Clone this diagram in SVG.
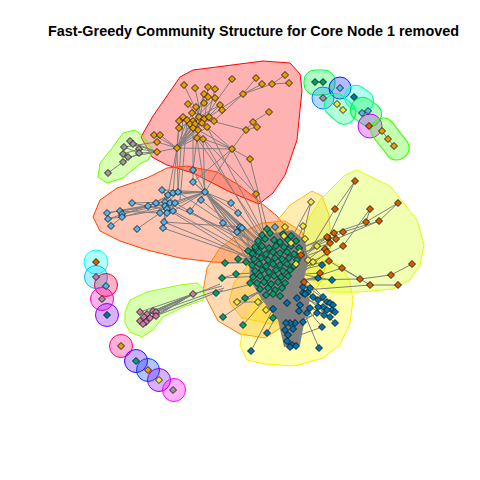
<svg xmlns="http://www.w3.org/2000/svg" width="480" height="480" viewBox="0 0 480 480">
<style>
.h{stroke-width:1;stroke-linejoin:round}
.e{stroke:#808080;stroke-width:1;fill:none}
.v use{stroke:#000;stroke-width:0.8}
.title{font-family:"Liberation Sans",Arial,sans-serif;font-weight:bold;font-size:14.4px;fill:#000}
</style>
<defs>
<path id="d" d="M0,-3.5L3.5,0L0,3.5L-3.5,0Z"/>
</defs>
<rect width="480" height="480" fill="#fff"/>
<text class="title" x="253.5" y="36" text-anchor="middle">Fast-Greedy Community Structure for Core Node 1 removed</text>
<g id="hulls">
<path class="h" fill="#FF0000" fill-opacity="0.3" stroke="#FF0000" d="M141,137 L153,116 L180,77 L193,70 L263,61 L290,63 L300,74 L302,90 L297,140 L285,175 L273,193 L259,204 L230,192 L193,173 L167,165 L152,157 Z"/>
<path class="h" fill="#FF4000" fill-opacity="0.3" stroke="#FF4000" d="M93,217 L100,200 L117,188 L147,178 L167,168 L187,166 L217,172 L240,186 L260,202 L277,216 L290,232 L285,250 L268,260 L240,263 L213,262 L180,258 L147,250 L120,241 L100,231 Z"/>
<path class="h" fill="#FF8000" fill-opacity="0.3" stroke="#FF8000" d="M203,292 L207,268 L220,248 L240,233 L262,223 L285,221 L302,232 L308,262 L300,295 L285,325 L265,338 L240,334 L218,321 Z"/>
<path class="h" fill="#FFBF00" fill-opacity="0.3" stroke="#FFBF00" d="M312,191 L322,196 L329,215 L331,245 L322,280 L302,310 L272,324 L242,318 L229,302 L234,283 L252,260 L268,232 L290,205 Z"/>
<path class="h" fill="#FFFF00" fill-opacity="0.3" stroke="#FFEE00" d="M240,345 L243,330 L255,300 L270,280 L295,268 L320,258 L340,265 L350,282 L353,300 L350,323 L340,345 L323,358 L295,366 L265,364 L247,360 Z"/>
<path class="h" fill="#CCFF00" fill-opacity="0.3" stroke="#DDFF00" d="M345,175 L357,170 L390,186 L417,220 L424,245 L420,265 L410,280 L393,289 L360,292 L330,292 L312,280 L300,255 L305,225 L320,200 Z"/>
<path class="h" fill="#80FF00" fill-opacity="0.3" stroke="#66FF00" d="M123,133 L135,130 L143,136 L153,150 L148,160 L140,164 L123,178 L107,183 L98,177 L100,163 L113,147 Z"/>
<path class="h" fill="#80FF00" fill-opacity="0.3" stroke="#99FF00" d="M125,312 L130,300 L147,292 L180,285 L197,283 L205,290 L203,300 L183,307 L163,317 L153,330 L142,337 L130,332 L125,323 Z"/>
<rect class="h" x="304" y="70" width="31" height="25" rx="11" fill="#00FF40" fill-opacity="0.3" stroke="#00FF40"/>
<circle class="h" cx="323" cy="98" r="11" fill="#0080FF" fill-opacity="0.3" stroke="#0080FF"/>
<circle class="h" cx="340" cy="88" r="11" fill="#0020FF" fill-opacity="0.3" stroke="#0020FF"/>
<rect class="h" x="-17" y="-11.5" width="34" height="23" rx="11" transform="translate(340,109) rotate(42)" fill="#00FF80" fill-opacity="0.3" stroke="#00FF80"/>
<rect class="h" x="-15" y="-11.5" width="30" height="23" rx="11" transform="translate(359,99) rotate(35)" fill="#00FFBF" fill-opacity="0.3" stroke="#00FFBF"/>
<rect class="h" x="-16" y="-12" width="32" height="24" rx="11" transform="translate(366,112) rotate(35)" fill="#00FF40" fill-opacity="0.3" stroke="#00FF40"/>
<circle class="h" cx="370" cy="126" r="12" fill="#BF00FF" fill-opacity="0.3" stroke="#BF00FF"/>
<rect class="h" x="-23" y="-12" width="46" height="24" rx="11" transform="translate(390,139) rotate(52)" fill="#40FF00" fill-opacity="0.3" stroke="#40FF00"/>
<circle class="h" cx="96" cy="262" r="12" fill="#00FFFF" fill-opacity="0.3" stroke="#00FFFF"/>
<circle class="h" cx="96" cy="277" r="11.5" fill="#00BFFF" fill-opacity="0.3" stroke="#00BFFF"/>
<circle class="h" cx="106" cy="285" r="11.5" fill="#FF0040" fill-opacity="0.3" stroke="#FF0040"/>
<circle class="h" cx="102" cy="299" r="11.5" fill="#FF00BF" fill-opacity="0.3" stroke="#FF00BF"/>
<circle class="h" cx="107" cy="315" r="11.5" fill="#8000FF" fill-opacity="0.3" stroke="#8000FF"/>
<circle class="h" cx="121" cy="346" r="11.5" fill="#FF0080" fill-opacity="0.3" stroke="#FF0080"/>
<circle class="h" cx="136" cy="361" r="11.5" fill="#4000FF" fill-opacity="0.3" stroke="#4000FF"/>
<circle class="h" cx="148" cy="370" r="11.5" fill="#0040FF" fill-opacity="0.3" stroke="#0040FF"/>
<circle class="h" cx="159" cy="380" r="11.5" fill="#8000FF" fill-opacity="0.3" stroke="#8000FF"/>
<circle class="h" cx="174" cy="390" r="11.5" fill="#FF00FF" fill-opacity="0.3" stroke="#FF00FF"/>
</g>
<g id="connectors">
<path fill="#808080" d="M258,236 L292,230 L305,240 L308,262 L302,285 L310,300 L305,318 L300,345 L284,347 L278,320 L262,300 L250,280 L249,255 Z"/>
<path class="e" d="M184,85L200,118 M195,88L202,120 M208,87L205,118 M215,89L207,120 M232,79L204,119 M256,78L243,94 M262,84L243,94 M272,84L243,94 M285,75L272,84 M289,83L272,84 M243,94L209,117 M243,94L214,121 M204,94L200,118 M188,104L199,117 M220,105L205,120 M183,117L207,127 M179,121L214,121 M187,120L204,103 M192,113L209,117 M190,124L215,98 M196,107L202,123 M179,128L220,105 M193,128L204,94
M177,148L179,121 M177,148L187,120 M177,148L193,121 M177,148L199,117 M177,148L204,119 M177,148L209,117 M177,148L190,124 M177,148L195,124 M177,148L202,123 M177,148L207,127 M177,148L193,128 M177,148L198,130 M177,148L197,138 M177,148L179,128 M177,148L157,142 M177,148L157,152 M177,148L154,135 M177,148L160,135 M177,148L232,149 M177,148L178,192 M177,148L173,193 M177,148L168,195
M232,149L207,127 M232,149L203,139 M232,149L246,130 M232,149L250,159 M232,149L256,194 M232,149L205,192 M232,149L193,182 M232,149L198,130 M269,112L253,122 M253,122L246,130 M257,127L246,130 M246,130L204,119
M197,138L205,192 M203,139L205,192 M198,130L193,170 M203,139L262,240 M197,138L268,242 M207,127L265,236 M193,128L256,194 M256,194L265,238 M250,159L270,240 M193,121L193,182 M187,120L180,200 M183,117L178,192
M130,141L157,152 M133,144L157,152 M139,149L157,152 M139,153L157,152 M124,147L157,142 M128,157L157,152 M123,154L139,149 M123,162L139,153 M108,173L123,162 M130,141L139,149 M124,147L139,153
M162,190L175,203 M168,195L160,213 M173,193L148,206 M178,192L165,206 M132,203L165,202 M148,206L178,192 M156,203L173,211 M165,202L167,213 M170,203L162,190 M107,213L165,202 M120,211L160,213 M122,214L170,203 M122,217L165,206 M108,219L167,209 M111,226L122,217 M137,229L160,213 M163,228L167,213 M164,222L165,206 M132,203L173,211 M107,213L148,206 M120,211L175,203 M108,219L156,203
M205,192L162,190 M205,192L168,195 M205,192L173,193 M205,192L178,192 M205,192L175,203 M205,192L170,203 M205,192L173,211 M205,192L167,209 M205,192L190,211 M205,192L193,170 M205,192L193,182 M205,192L201,200 M205,192L231,203 M205,192L238,213 M205,192L223,223 M205,192L240,227 M205,192L237,232 M205,192L242,228 M205,192L256,249 M205,192L262,246 M205,192L259,252 M205,192L266,254 M205,192L273,252 M205,192L255,271 M205,192L262,264 M205,192L280,260 M205,192L253,255
M178,192L265,250 M175,203L262,252 M173,211L258,258 M167,209L260,266 M165,202L268,248 M164,222L262,262 M163,228L255,260 M190,211L259,258 M193,182L264,246 M201,200L270,256 M231,203L265,245 M238,213L273,250 M223,223L265,260 M240,227L260,252 M237,232L276,256 M242,228L258,266 M256,249L285,255 M253,255L282,270 M275,227L280,250 M164,222L240,227
M225,263L262,262 M238,259L266,258 M246,262L272,264 M222,278L262,276 M236,274L268,272 M216,293L260,282 M223,317L262,290 M243,325L268,296 M245,298L266,288 M273,318L275,296 M250,283L270,282 M248,251L266,252 M225,263L246,262 M222,278L236,274
M140,312L193,294 M147,314L193,294 M153,311L193,294 M156,312L193,294 M150,318L193,294 M146,322L193,294 M156,316L193,294 M144,317L193,294 M193,294L222,286 M156,312L224,288 M153,311L220,284 M150,318L223,290
M251,351L273,309 M267,333L285,300 M319,348L305,315 M322,327L300,300 M335,323L310,300 M287,341L290,300 M292,345L295,305 M296,346L300,310 M290,347L285,310 M285,330L280,300 M273,309L285,290 M287,303L270,280 M297,298L280,285 M303,293L285,275 M322,265L300,270 M332,280L305,275 M318,278L295,280 M303,287L285,285 M310,288L290,270 M305,294L280,280 M318,300L295,285 M333,305L300,290 M330,317L295,300 M324,315L290,295 M327,302L285,288 M313,297L292,280 M323,297L298,272 M335,312L300,296 M317,313L296,325 M327,310L300,320 M330,303L305,285 M318,307L290,285 M322,327L300,335
M355,181L335,209 M335,209L310,250 M355,181L328,238 M398,203L379,221 M379,221L343,232 M370,209L366,222 M366,222L334,233 M343,232L300,255 M334,233L295,260 M328,238L296,250 M336,239L300,265 M343,246L295,270 M325,249L290,262 M327,252L300,275 M329,261L295,268 M342,268L300,282 M412,264L391,275 M391,275L360,279 M360,279L329,261 M398,285L370,285 M370,285L342,268 M360,279L300,280 M370,285L305,290 M301,255L285,260 M304,282L290,285 M320,273L290,275 M327,237L300,248 M330,243L295,256 M379,221L336,239 M370,209L343,246 M398,203L366,222
M311,202L300,250 M311,202L285,250 M303,226L290,260 M285,227L280,255 M305,239L285,262 M291,243L275,265 M317,246L290,268 M300,252L280,262 M308,260L285,272 M296,264L275,275 M313,262L290,280 M237,302L265,290 M258,302L275,290 M266,310L282,292 M284,236L270,260 M237,302L258,302
M315,82L323,82 M337,104L343,110 M362,113L368,111 M382,131L388,139 M388,139L394,146"/>
</g>
<g class="v">
<g id="community-orange" fill="#E69F00">
<use href="#d" x="184" y="85"/><use href="#d" x="195" y="88"/><use href="#d" x="208" y="87"/><use href="#d" x="215" y="89"/><use href="#d" x="232" y="79"/><use href="#d" x="256" y="78"/><use href="#d" x="262" y="84"/><use href="#d" x="272" y="84"/><use href="#d" x="285" y="75"/><use href="#d" x="289" y="83"/><use href="#d" x="243" y="94"/><use href="#d" x="204" y="94"/><use href="#d" x="208" y="97"/><use href="#d" x="215" y="98"/><use href="#d" x="188" y="104"/><use href="#d" x="196" y="107"/><use href="#d" x="204" y="103"/><use href="#d" x="220" y="105"/><use href="#d" x="222" y="110"/><use href="#d" x="192" y="113"/><use href="#d" x="183" y="117"/><use href="#d" x="179" y="121"/><use href="#d" x="187" y="120"/><use href="#d" x="193" y="121"/><use href="#d" x="199" y="117"/><use href="#d" x="204" y="119"/><use href="#d" x="209" y="117"/><use href="#d" x="214" y="121"/><use href="#d" x="190" y="124"/><use href="#d" x="195" y="124"/><use href="#d" x="202" y="123"/><use href="#d" x="207" y="127"/><use href="#d" x="179" y="128"/><use href="#d" x="193" y="128"/><use href="#d" x="198" y="130"/><use href="#d" x="197" y="138"/><use href="#d" x="203" y="139"/><use href="#d" x="269" y="112"/><use href="#d" x="253" y="122"/><use href="#d" x="257" y="127"/><use href="#d" x="246" y="130"/><use href="#d" x="154" y="135"/><use href="#d" x="160" y="135"/><use href="#d" x="157" y="142"/><use href="#d" x="157" y="152"/><use href="#d" x="177" y="148"/><use href="#d" x="232" y="149"/><use href="#d" x="250" y="159"/><use href="#d" x="256" y="194"/>
</g>
<g id="community-gray" fill="#999999">
<use href="#d" x="130" y="141"/><use href="#d" x="124" y="147"/><use href="#d" x="133" y="144"/><use href="#d" x="139" y="149"/><use href="#d" x="139" y="153"/><use href="#d" x="123" y="154"/><use href="#d" x="128" y="157"/><use href="#d" x="123" y="162"/><use href="#d" x="108" y="173"/>
</g>
<g id="community-lightblue" fill="#56B4E9">
<use href="#d" x="162" y="190"/><use href="#d" x="168" y="195"/><use href="#d" x="173" y="193"/><use href="#d" x="178" y="192"/><use href="#d" x="132" y="203"/><use href="#d" x="148" y="206"/><use href="#d" x="156" y="203"/><use href="#d" x="165" y="202"/><use href="#d" x="170" y="203"/><use href="#d" x="175" y="203"/><use href="#d" x="165" y="206"/><use href="#d" x="167" y="209"/><use href="#d" x="160" y="213"/><use href="#d" x="167" y="213"/><use href="#d" x="173" y="211"/><use href="#d" x="107" y="213"/><use href="#d" x="120" y="211"/><use href="#d" x="122" y="214"/><use href="#d" x="122" y="217"/><use href="#d" x="108" y="219"/><use href="#d" x="111" y="226"/><use href="#d" x="137" y="229"/><use href="#d" x="163" y="228"/><use href="#d" x="164" y="222"/><use href="#d" x="190" y="211"/><use href="#d" x="193" y="170"/><use href="#d" x="193" y="182"/><use href="#d" x="205" y="192"/><use href="#d" x="201" y="200"/><use href="#d" x="231" y="203"/><use href="#d" x="238" y="213"/><use href="#d" x="223" y="223"/><use href="#d" x="240" y="227"/><use href="#d" x="237" y="232"/><use href="#d" x="242" y="228"/><use href="#d" x="256" y="249"/><use href="#d" x="275" y="227"/><use href="#d" x="253" y="255"/>
</g>
<g id="community-teal" fill="#009E73">
<use href="#d" x="262" y="235"/><use href="#d" x="270" y="233"/><use href="#d" x="283" y="234"/><use href="#d" x="291" y="236"/>
<use href="#d" x="258" y="241"/><use href="#d" x="265" y="239"/><use href="#d" x="274" y="240"/><use href="#d" x="280" y="242"/><use href="#d" x="288" y="240"/><use href="#d" x="296" y="241"/>
<use href="#d" x="255" y="247"/><use href="#d" x="262" y="246"/><use href="#d" x="269" y="248"/><use href="#d" x="276" y="246"/><use href="#d" x="284" y="247"/><use href="#d" x="291" y="246"/><use href="#d" x="299" y="248"/>
<use href="#d" x="252" y="253"/><use href="#d" x="259" y="252"/><use href="#d" x="266" y="254"/><use href="#d" x="273" y="252"/><use href="#d" x="280" y="253"/><use href="#d" x="287" y="252"/><use href="#d" x="294" y="254"/>
<use href="#d" x="254" y="259"/><use href="#d" x="261" y="258"/><use href="#d" x="268" y="260"/><use href="#d" x="275" y="258"/><use href="#d" x="282" y="259"/><use href="#d" x="289" y="258"/><use href="#d" x="297" y="260"/>
<use href="#d" x="252" y="265"/><use href="#d" x="259" y="264"/><use href="#d" x="266" y="266"/><use href="#d" x="273" y="264"/><use href="#d" x="280" y="265"/><use href="#d" x="287" y="264"/><use href="#d" x="294" y="266"/>
<use href="#d" x="255" y="271"/><use href="#d" x="262" y="270"/><use href="#d" x="269" y="272"/><use href="#d" x="276" y="270"/><use href="#d" x="283" y="271"/><use href="#d" x="290" y="270"/>
<use href="#d" x="253" y="277"/><use href="#d" x="260" y="276"/><use href="#d" x="267" y="278"/><use href="#d" x="274" y="276"/><use href="#d" x="281" y="277"/><use href="#d" x="288" y="276"/>
<use href="#d" x="257" y="283"/><use href="#d" x="264" y="282"/><use href="#d" x="271" y="284"/><use href="#d" x="278" y="282"/><use href="#d" x="285" y="283"/>
<use href="#d" x="260" y="289"/><use href="#d" x="268" y="288"/><use href="#d" x="275" y="290"/><use href="#d" x="282" y="288"/>
<use href="#d" x="266" y="295"/><use href="#d" x="273" y="294"/><use href="#d" x="280" y="296"/>
<use href="#d" x="225" y="263"/><use href="#d" x="238" y="259"/><use href="#d" x="246" y="262"/><use href="#d" x="222" y="278"/><use href="#d" x="236" y="274"/><use href="#d" x="216" y="293"/><use href="#d" x="223" y="317"/><use href="#d" x="243" y="325"/><use href="#d" x="245" y="298"/><use href="#d" x="273" y="318"/><use href="#d" x="267" y="229"/><use href="#d" x="248" y="251"/><use href="#d" x="250" y="283"/>
</g>
<g id="community-yellow" fill="#F0E442">
<use href="#d" x="311" y="202"/><use href="#d" x="303" y="226"/><use href="#d" x="285" y="227"/><use href="#d" x="305" y="239"/><use href="#d" x="291" y="243"/><use href="#d" x="317" y="246"/><use href="#d" x="300" y="252"/><use href="#d" x="308" y="260"/><use href="#d" x="296" y="264"/><use href="#d" x="313" y="262"/><use href="#d" x="237" y="302"/><use href="#d" x="258" y="302"/><use href="#d" x="266" y="310"/><use href="#d" x="284" y="236"/>
</g>
<g id="community-darkblue" fill="#0072B2">
<use href="#d" x="287" y="303"/><use href="#d" x="297" y="298"/><use href="#d" x="303" y="293"/><use href="#d" x="308" y="292"/><use href="#d" x="313" y="297"/><use href="#d" x="318" y="300"/><use href="#d" x="323" y="297"/><use href="#d" x="327" y="302"/><use href="#d" x="330" y="303"/><use href="#d" x="333" y="305"/><use href="#d" x="332" y="310"/><use href="#d" x="335" y="312"/><use href="#d" x="327" y="310"/><use href="#d" x="323" y="307"/><use href="#d" x="318" y="307"/><use href="#d" x="317" y="313"/><use href="#d" x="324" y="315"/><use href="#d" x="330" y="317"/><use href="#d" x="335" y="323"/><use href="#d" x="322" y="327"/><use href="#d" x="310" y="308"/><use href="#d" x="300" y="305"/><use href="#d" x="307" y="313"/><use href="#d" x="299" y="311"/><use href="#d" x="295" y="323"/><use href="#d" x="290" y="323"/><use href="#d" x="286" y="323"/><use href="#d" x="285" y="330"/><use href="#d" x="293" y="329"/><use href="#d" x="288" y="335"/><use href="#d" x="287" y="341"/><use href="#d" x="292" y="345"/><use href="#d" x="296" y="346"/><use href="#d" x="290" y="347"/><use href="#d" x="273" y="309"/><use href="#d" x="267" y="333"/><use href="#d" x="251" y="351"/><use href="#d" x="319" y="348"/><use href="#d" x="303" y="322"/><use href="#d" x="322" y="265"/><use href="#d" x="332" y="280"/><use href="#d" x="318" y="278"/><use href="#d" x="303" y="287"/><use href="#d" x="310" y="288"/><use href="#d" x="305" y="294"/>
</g>
<g id="community-darkorange" fill="#D55E00">
<use href="#d" x="355" y="181"/><use href="#d" x="335" y="209"/><use href="#d" x="370" y="209"/><use href="#d" x="398" y="203"/><use href="#d" x="366" y="222"/><use href="#d" x="379" y="221"/><use href="#d" x="343" y="232"/><use href="#d" x="334" y="233"/><use href="#d" x="328" y="238"/><use href="#d" x="336" y="239"/><use href="#d" x="343" y="246"/><use href="#d" x="325" y="249"/><use href="#d" x="327" y="252"/><use href="#d" x="329" y="261"/><use href="#d" x="342" y="268"/><use href="#d" x="301" y="255"/><use href="#d" x="304" y="282"/><use href="#d" x="412" y="264"/><use href="#d" x="391" y="275"/><use href="#d" x="360" y="279"/><use href="#d" x="398" y="285"/><use href="#d" x="370" y="285"/><use href="#d" x="320" y="273"/><use href="#d" x="327" y="237"/><use href="#d" x="330" y="243"/>
</g>
<g id="community-pink" fill="#CC79A7">
<use href="#d" x="193" y="294"/><use href="#d" x="140" y="312"/><use href="#d" x="147" y="314"/><use href="#d" x="153" y="311"/><use href="#d" x="156" y="312"/><use href="#d" x="144" y="317"/><use href="#d" x="150" y="318"/><use href="#d" x="140" y="321"/><use href="#d" x="146" y="322"/><use href="#d" x="156" y="316"/><use href="#d" x="143" y="324"/>
</g>
<g id="small-communities">
<use href="#d" x="315" y="82" fill="#009E73"/><use href="#d" x="323" y="82" fill="#009E73"/>
<use href="#d" x="323" y="98" fill="#999999"/>
<use href="#d" x="340" y="88" fill="#56B4E9"/>
<use href="#d" x="337" y="104" fill="#F0E442"/><use href="#d" x="343" y="110" fill="#F0E442"/>
<use href="#d" x="354" y="97" fill="#0072B2"/>
<use href="#d" x="362" y="113" fill="#56B4E9"/><use href="#d" x="368" y="111" fill="#56B4E9"/>
<use href="#d" x="369" y="126" fill="#D55E00"/>
<use href="#d" x="382" y="131" fill="#E69F00"/><use href="#d" x="388" y="139" fill="#E69F00"/><use href="#d" x="394" y="146" fill="#E69F00"/>
<use href="#d" x="96" y="262" fill="#D55E00"/>
<use href="#d" x="96" y="277" fill="#CC79A7"/>
<use href="#d" x="106" y="286" fill="#56B4E9"/>
<use href="#d" x="102" y="299" fill="#999999"/>
<use href="#d" x="107" y="315" fill="#0072B2"/>
<use href="#d" x="121" y="346" fill="#E69F00"/>
<use href="#d" x="136" y="361" fill="#009E73"/>
<use href="#d" x="148" y="370" fill="#E69F00"/>
<use href="#d" x="159" y="380" fill="#F0E442"/>
<use href="#d" x="173" y="390" fill="#999999"/>
</g>
</g>
</svg>
